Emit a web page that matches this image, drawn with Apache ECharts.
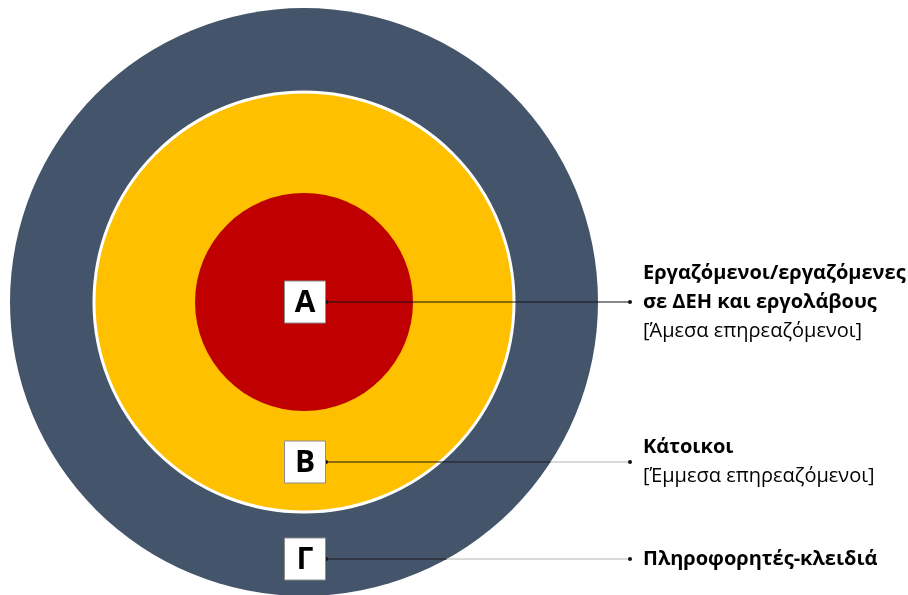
<!DOCTYPE html>
<html>
<head>
<meta charset="utf-8">
<script src="https://cdn.jsdelivr.net/npm/echarts@6/dist/echarts.min.js"></script>
<style>
  html, body { margin: 0; padding: 0; background: #fff; }
  #chart { width: 908px; height: 595px; }
</style>
</head>
<body>
<div id="chart"></div>
<script>
// rings, outer to inner (radius in chart units)
const ringLetters = ["Γ", "Β", "Α"]
const ringRadius = [294, 210, 109]

// markers and their descriptions
const markerLetters = ["Α", "Β", "Γ"]
const markerY = [0, -160, -257]
const groupTitles = [
  ["Εργαζόμενοι/εργαζόμενες", "σε ΔΕΗ και εργολάβους"],
  ["Κάτοικοι"],
  ["Πληροφορητές-κλειδιά"],
]
const groupNotes = ["[Άμεσα επηρεαζόμενοι]", "[Έμμεσα επηρεαζόμενοι]", ""]

const ringColors = ["#44546A", "#FFC000", "#C00000"]
const fadeOutside = [false, true, true]
const FONT = "'Open Sans', 'Noto Sans', sans-serif"

const chart = echarts.init(document.getElementById("chart"))

const option = {
  animation: false,
  grid: { left: 0, right: 0, top: 0, bottom: 0 },
  xAxis: { type: "value", min: -304, max: 604, show: false },
  yAxis: { type: "value", min: -293, max: 302, show: false },
  series: [
    {
      type: "custom",
      name: "rings",
      data: ringRadius.map((r, i) => [0, 0, r, ringLetters[i]]),
      renderItem(params, api) {
        const c = api.coord([api.value(0), api.value(1)])
        const r = api.size([api.value(2), 0])[0]
        const i = params.dataIndex
        return {
          type: "circle",
          shape: { cx: c[0], cy: c[1], r: r },
          style: {
            fill: ringColors[i],
            stroke: i === 1 ? "#ffffff" : null,
            lineWidth: i === 1 ? 3 : 0,
          },
        }
      },
    },
    {
      type: "custom",
      name: "leaders",
      data: markerY.map((y) => [1, y]),
      renderItem(params, api) {
        const i = params.dataIndex
        const y = api.value(1)
        const start = api.coord([api.value(0) + 21, y])
        const end = api.coord([326, y])
        const edgeX = Math.sqrt(ringRadius[0] * ringRadius[0] - y * y)
        const edge = api.coord([edgeX, y])
        const children = []
        if (fadeOutside[i]) {
          children.push({ type: "line", shape: { x1: start[0], y1: start[1], x2: edge[0], y2: edge[1] }, style: { stroke: "#1a1a1a", lineWidth: 1 } })
          children.push({ type: "line", shape: { x1: edge[0], y1: edge[1], x2: end[0], y2: end[1] }, style: { stroke: "#b4b4b4", lineWidth: 1 } })
        } else {
          children.push({ type: "line", shape: { x1: start[0], y1: start[1], x2: end[0], y2: end[1] }, style: { stroke: "#111", lineWidth: 1 } })
        }
        children.push({ type: "circle", shape: { cx: start[0], cy: start[1], r: 2 }, style: { fill: "#111" } })
        children.push({ type: "circle", shape: { cx: end[0], cy: end[1], r: 2 }, style: { fill: "#111" } })
        return { type: "group", children: children }
      },
    },
    {
      type: "custom",
      name: "markers",
      data: markerY.map((y, i) => [1, y, markerLetters[i]]),
      renderItem(params, api) {
        const c = api.coord([api.value(0), api.value(1)])
        const w = 41
        const h = 42
        return {
          type: "group",
          children: [
            {
              type: "rect",
              shape: { x: c[0] - w / 2, y: c[1] - h / 2, width: w, height: h },
              style: { fill: "#ffffff", stroke: "#8c8c8c", lineWidth: 1 },
            },
            {
              type: "text",
              x: c[0],
              y: c[1] + 1,
              style: {
                text: markerLetters[params.dataIndex],
                fontFamily: FONT,
                fontWeight: "bold",
                fontSize: 30,
                fill: "#000",
                align: "center",
                verticalAlign: "middle",
              },
            },
          ],
        }
      },
    },
    {
      type: "custom",
      name: "descriptions",
      data: markerY.map((y) => [339, y]),
      renderItem(params, api) {
        const i = params.dataIndex
        const c = api.coord([api.value(0), api.value(1)])
        const lines = groupTitles[i].map((t) => "{b|" + t + "}")
        if (groupNotes[i]) lines.push("{n|" + groupNotes[i] + "}")
        return {
          type: "text",
          x: c[0],
          y: c[1],
          style: {
            text: lines.join("\n"),
            align: "left",
            verticalAlign: "middle",
            rich: {
              b: { fontFamily: FONT, fontWeight: "bold", fontSize: 20, lineHeight: 29, fill: "#000" },
              n: { fontFamily: FONT, fontSize: 20, lineHeight: 29, fill: "#000" },
            },
          },
        }
      },
    },
  ],
}

chart.setOption(option)
</script>
</body>
</html>
